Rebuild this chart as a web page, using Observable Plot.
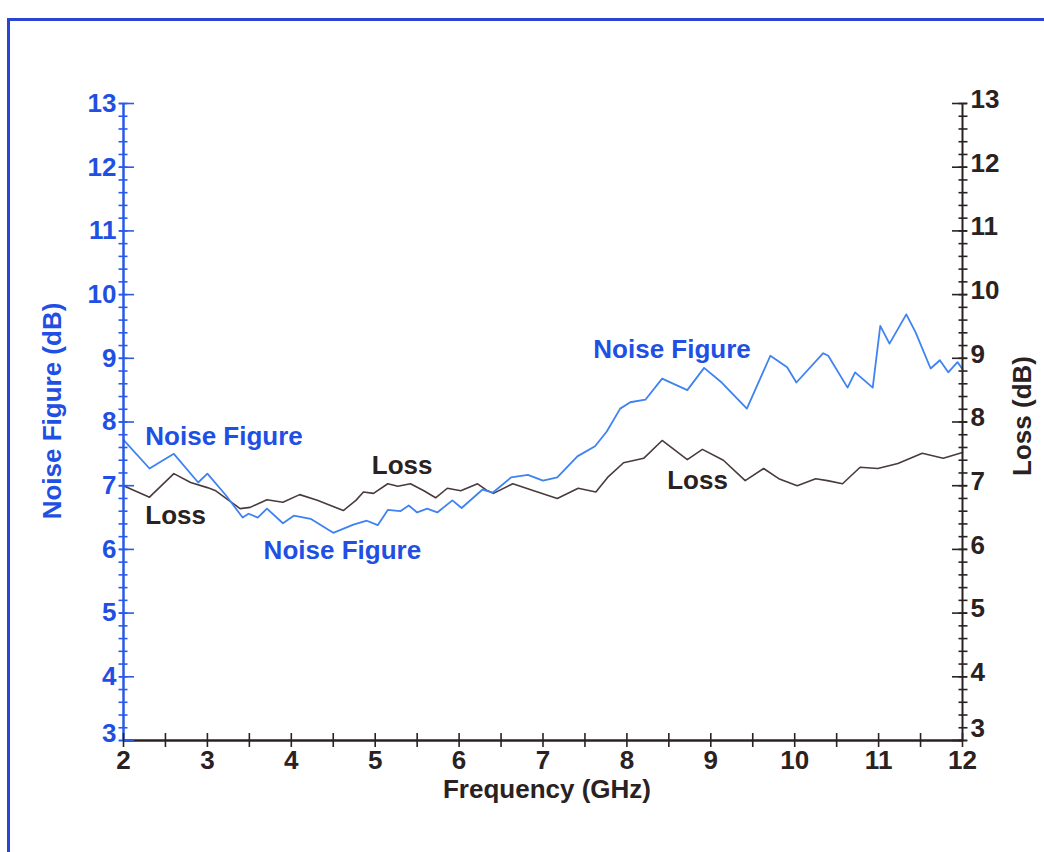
<!DOCTYPE html>
<html>
<head>
<meta charset="utf-8">
<script src="https://cdn.jsdelivr.net/npm/d3@7"></script>
<script src="https://cdn.jsdelivr.net/npm/@observablehq/plot@0.6"></script>
<style>
  html, body { margin: 0; padding: 0; background: #ffffff; }
  #wrap { position: relative; width: 1044px; height: 852px; overflow: hidden; }
  #frame { position: absolute; left: 7px; top: 18px; width: 1050px; height: 860px;
           border-top: 3px solid #2a44d6; border-left: 3px solid #2a44d6; }
  #chart { position: absolute; left: 0; top: 0; }
</style>
</head>
<body>
<div id="wrap"><div id="frame"></div><div id="chart"></div></div>
<script>
// Noise Figure (blue, left axis)
const freqNF = [2.0, 2.31, 2.6, 2.89, 3.0, 3.22, 3.42, 3.49, 3.6, 3.71, 3.9, 4.03, 4.23, 4.5, 4.74, 4.9, 5.03, 5.15, 5.3, 5.4, 5.5, 5.62, 5.74, 5.92, 6.03, 6.28, 6.4, 6.62, 6.82, 7.0, 7.17, 7.41, 7.62, 7.76, 7.92, 8.04, 8.22, 8.42, 8.72, 8.92, 9.13, 9.43, 9.71, 9.91, 10.02, 10.34, 10.4, 10.63, 10.72, 10.93, 11.02, 11.13, 11.33, 11.44, 11.62, 11.73, 11.83, 11.94, 12.0];
const noiseFigure = [7.72, 7.27, 7.5, 7.05, 7.19, 6.85, 6.5, 6.56, 6.5, 6.64, 6.41, 6.53, 6.48, 6.26, 6.39, 6.45, 6.38, 6.62, 6.6, 6.69, 6.58, 6.64, 6.58, 6.77, 6.65, 6.94, 6.89, 7.13, 7.17, 7.08, 7.13, 7.46, 7.62, 7.85, 8.21, 8.31, 8.35, 8.68, 8.5, 8.85, 8.62, 8.21, 9.04, 8.86, 8.62, 9.08, 9.04, 8.54, 8.78, 8.54, 9.51, 9.23, 9.69, 9.41, 8.84, 8.97, 8.78, 8.94, 8.83];

// Loss (dark, right axis)
const freqLoss = [2.0, 2.31, 2.6, 2.8, 3.0, 3.1, 3.39, 3.51, 3.71, 3.9, 4.1, 4.31, 4.62, 4.77, 4.86, 4.98, 5.15, 5.27, 5.42, 5.58, 5.72, 5.86, 6.02, 6.22, 6.34, 6.41, 6.64, 6.89, 7.17, 7.42, 7.63, 7.77, 7.96, 8.2, 8.42, 8.72, 8.9, 9.15, 9.41, 9.63, 9.81, 10.03, 10.25, 10.39, 10.57, 10.78, 10.99, 11.23, 11.52, 11.77, 12.0];
const loss = [7.0, 6.82, 7.19, 7.05, 6.97, 6.92, 6.64, 6.66, 6.78, 6.74, 6.86, 6.77, 6.61, 6.77, 6.9, 6.88, 7.03, 6.99, 7.03, 6.92, 6.81, 6.96, 6.92, 7.03, 6.92, 6.88, 7.03, 6.92, 6.8, 6.96, 6.9, 7.13, 7.36, 7.43, 7.71, 7.41, 7.57, 7.4, 7.08, 7.27, 7.11, 7.0, 7.11, 7.08, 7.03, 7.29, 7.27, 7.35, 7.51, 7.43, 7.52];

// Tick labels
const xTicks = [2, 3, 4, 5, 6, 7, 8, 9, 10, 11, 12];
const yTicks = [3, 4, 5, 6, 7, 8, 9, 10, 11, 12, 13];
const xMinorTicks = d3.range(2, 12.001, 0.5);
const yMinorTicks = d3.range(3, 13.001, 0.2).map(v => Math.round(v * 10) / 10);
const yTicksUpper = yTicks.filter(v => v > 3);
const yTicksBase = yTicks.filter(v => v === 3);

// In-plot series labels
const nfLabelText = ["Noise Figure", "Noise Figure", "Noise Figure"];
const nfLabelX = [2.26, 3.67, 7.6];
const nfLabelY = [7.77, 5.98, 9.14];
const lossLabelText = ["Loss", "Loss", "Loss"];
const lossLabelX = [2.26, 4.96, 8.48];
const lossLabelY = [6.53, 7.32, 7.08];

const nfData = freqNF.map((f, i) => ({f, v: noiseFigure[i]}));
const lossData = freqLoss.map((f, i) => ({f, v: loss[i]}));
const nfLabels = nfLabelText.map((t, i) => ({t, x: nfLabelX[i], y: nfLabelY[i]}));
const lossLabels = lossLabelText.map((t, i) => ({t, x: lossLabelX[i], y: lossLabelY[i]}));

const BLUE_TEXT = "#1f4fe3";
const BLUE_AXIS = "#2a5ae6";
const BLUE_LINE = "#3f82f2";
const DARK = "#2a2222";
const LOSS_LINE = "#4a3b3b";
const FS = 26;

const chart = Plot.plot({
  width: 1044,
  height: 852,
  marginLeft: 123,
  marginRight: 82,
  marginTop: 103,
  marginBottom: 112,
  x: {domain: [2, 12]},
  y: {domain: [3, 13]},
  style: {background: "transparent", fontFamily: "'Liberation Sans', Arial, sans-serif", overflow: "visible"},
  marks: [
    Plot.lineY(lossData, {x: "f", y: "v", stroke: LOSS_LINE, strokeWidth: 1.6}),
    Plot.lineY(nfData, {x: "f", y: "v", stroke: BLUE_LINE, strokeWidth: 1.8}),
    // axis lines
    Plot.ruleX([2], {stroke: BLUE_AXIS, strokeWidth: 2.5}),
    Plot.ruleX([12], {stroke: DARK, strokeWidth: 2}),
    Plot.ruleY([3], {stroke: DARK, strokeWidth: 2.5}),
    // left axis (blue)
    Plot.axisY({anchor: "left", ticks: yMinorTicks, tickSize: 9, dx: 4.5, text: null, label: null, color: BLUE_AXIS, strokeWidth: 1.6}),
    Plot.axisY({anchor: "left", ticks: yTicks, tickSize: 15, dx: 11, text: null, label: null, color: BLUE_AXIS, strokeWidth: 1.6}),
    Plot.axisY({anchor: "left", ticks: yTicksUpper, tickSize: 0, tickPadding: 7, label: null, color: BLUE_TEXT, fontSize: FS, fontWeight: "bold", tickFormat: d => String(d)}),
    Plot.axisY({anchor: "left", ticks: yTicksBase, tickSize: 0, tickPadding: 7, dy: -7, label: null, color: BLUE_TEXT, fontSize: FS, fontWeight: "bold", tickFormat: d => String(d)}),
    // right axis (dark)
    Plot.axisY({anchor: "right", ticks: yMinorTicks, tickSize: 9, dx: -4.5, text: null, label: null, color: DARK, strokeWidth: 1.6}),
    Plot.axisY({anchor: "right", ticks: yTicks, tickSize: 15, dx: -11, text: null, label: null, color: DARK, strokeWidth: 1.6}),
    Plot.axisY({anchor: "right", ticks: yTicksUpper, tickSize: 0, tickPadding: 8, dy: -4, label: null, color: DARK, fontSize: FS, fontWeight: "bold", tickFormat: d => String(d)}),
    Plot.axisY({anchor: "right", ticks: yTicksBase, tickSize: 0, tickPadding: 8, dy: -12, label: null, color: DARK, fontSize: FS, fontWeight: "bold", tickFormat: d => String(d)}),
    // x axis
    Plot.axisX({anchor: "bottom", ticks: xMinorTicks, tickSize: 14, dy: -7, text: null, label: null, color: DARK, strokeWidth: 1.6}),
    Plot.axisX({anchor: "bottom", ticks: xTicks, tickSize: 0, tickPadding: 10, label: null, color: DARK, fontSize: FS, fontWeight: "bold", tickFormat: d => String(d)}),
    // axis titles
    Plot.text(["Noise Figure (dB)"], {frameAnchor: "left", textAnchor: "middle", dx: -71, dy: -11, rotate: -90, fill: BLUE_TEXT, fontSize: FS, fontWeight: "bold"}),
    Plot.text(["Loss (dB)"], {frameAnchor: "right", textAnchor: "middle", dx: 60, dy: -6, rotate: -90, fill: DARK, fontSize: FS, fontWeight: "bold"}),
    Plot.text(["Frequency (GHz)"], {frameAnchor: "bottom", textAnchor: "middle", dx: 4, dy: 57, fill: DARK, fontSize: FS, fontWeight: "bold"}),
    // series labels
    Plot.text(nfLabels, {x: "x", y: "y", text: "t", textAnchor: "start", fill: BLUE_TEXT, fontSize: FS, fontWeight: "bold"}),
    Plot.text(lossLabels, {x: "x", y: "y", text: "t", textAnchor: "start", fill: DARK, fontSize: FS, fontWeight: "bold"})
  ]
});
document.getElementById("chart").appendChild(chart);
</script>
</body>
</html>
